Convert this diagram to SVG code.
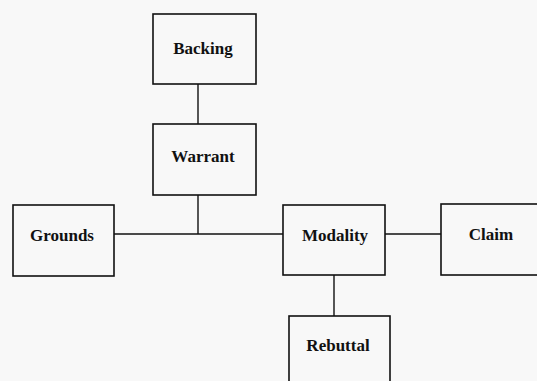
<svg xmlns="http://www.w3.org/2000/svg" width="537" height="381" viewBox="0 0 537 381">
  <style>
    .box { fill: none; stroke: #111; stroke-width: 1.6; }
    .link { fill: none; stroke: #111; stroke-width: 1.4; }
    .label { font-family: "Liberation Serif", "Times New Roman", serif; font-size: 17px; font-weight: bold; fill: #111; text-anchor: middle; }
  </style>
  <rect width="537" height="381" fill="#f8f8f8"/>

  <g id="connectors">
    <line class="link" x1="198" y1="84" x2="198" y2="124"/>
    <line class="link" x1="198" y1="195" x2="198" y2="234"/>
    <line class="link" x1="114" y1="234" x2="283" y2="234"/>
    <line class="link" x1="385" y1="234" x2="441" y2="234"/>
    <line class="link" x1="334" y1="275" x2="334" y2="316"/>
  </g>

  <g id="backing">
    <rect class="box" x="153" y="14" width="103" height="70"/>
    <text class="label" x="203" y="54">Backing</text>
  </g>
  <g id="warrant">
    <rect class="box" x="153" y="124" width="103" height="71"/>
    <text class="label" x="203" y="162">Warrant</text>
  </g>
  <g id="grounds">
    <rect class="box" x="13" y="205" width="101" height="71"/>
    <text class="label" x="62" y="241">Grounds</text>
  </g>
  <g id="modality">
    <rect class="box" x="283" y="205" width="102" height="70"/>
    <text class="label" x="335" y="241">Modality</text>
  </g>
  <g id="claim">
    <rect class="box" x="441" y="204" width="100" height="71"/>
    <text class="label" x="491" y="240">Claim</text>
  </g>
  <g id="rebuttal">
    <rect class="box" x="289" y="316" width="101" height="70"/>
    <text class="label" x="338" y="351">Rebuttal</text>
  </g>
</svg>
